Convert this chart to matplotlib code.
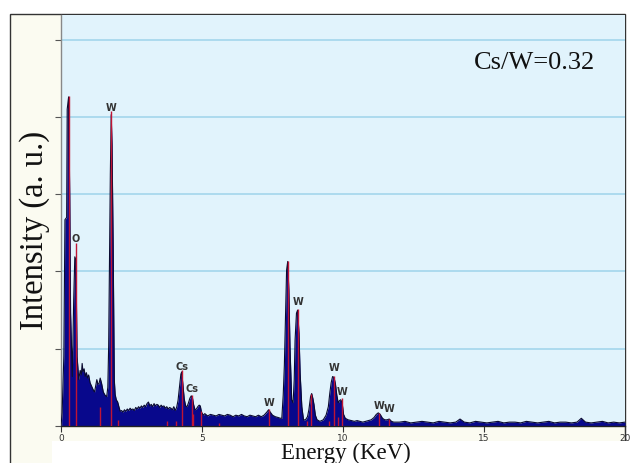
import matplotlib
matplotlib.use("Agg")
import matplotlib.pyplot as plt
from matplotlib.patches import Rectangle

# EDS spectrum (energy in keV, intensity in gridline units)
energy = [
    0.00, 0.04, 0.10, 0.14, 0.20, 0.22, 0.27, 0.31, 0.34, 0.40, 0.45, 0.49, 0.53, 0.57, 0.63,
    0.68, 0.72, 0.75, 0.78, 0.82, 0.86, 0.90, 0.94, 0.98, 1.03, 1.09, 1.14, 1.19, 1.23, 1.27,
    1.31, 1.35, 1.39, 1.44, 1.50, 1.56, 1.62, 1.66, 1.69, 1.72, 1.75, 1.78, 1.81, 1.85, 1.89,
    1.92, 1.96, 2.01, 2.06, 2.10, 2.15, 2.20, 2.25, 2.30, 2.35, 2.40, 2.45, 2.50, 2.55, 2.60,
    2.65, 2.70, 2.75, 2.80, 2.85, 2.90, 2.95, 3.00, 3.05, 3.10, 3.15, 3.20, 3.25, 3.30, 3.35,
    3.40, 3.45, 3.50, 3.55, 3.60, 3.65, 3.70, 3.75, 3.80, 3.85, 3.90, 3.95, 4.00, 4.05, 4.10,
    4.15, 4.20, 4.25, 4.28, 4.32, 4.37, 4.42, 4.47, 4.52, 4.57, 4.62, 4.66, 4.70, 4.75, 4.80,
    4.85, 4.90, 4.94, 4.98, 5.05, 5.10, 5.20, 5.30, 5.40, 5.50, 5.60, 5.70, 5.80, 5.90, 6.00,
    6.10, 6.20, 6.30, 6.40, 6.50, 6.60, 6.70, 6.80, 6.90, 7.00, 7.10, 7.20, 7.30, 7.36, 7.42,
    7.50, 7.60, 7.70, 7.78, 7.83, 7.88, 7.92, 7.97, 8.00, 8.04, 8.08, 8.12, 8.18, 8.23, 8.27,
    8.30, 8.35, 8.39, 8.44, 8.48, 8.54, 8.60, 8.67, 8.74, 8.79, 8.85, 8.89, 8.93, 8.97, 9.02,
    9.08, 9.18, 9.30, 9.40, 9.48, 9.53, 9.58, 9.63, 9.68, 9.73, 9.78, 9.83, 9.88, 9.92, 9.97,
    10.02, 10.08, 10.18, 10.30, 10.40, 10.50, 10.60, 10.70, 10.80, 10.90, 11.00, 11.10, 11.18,
    11.25, 11.32, 11.40, 11.48, 11.56, 11.64, 11.72, 11.80, 12.00, 12.20, 12.40, 12.60, 12.80,
    13.00, 13.20, 13.40, 13.60, 13.80, 14.00, 14.15, 14.30, 14.50, 14.70, 14.90, 15.10, 15.30,
    15.50, 15.70, 15.90, 16.10, 16.30, 16.50, 16.70, 16.90, 17.10, 17.30, 17.50, 17.70, 17.90,
    18.10, 18.30, 18.45, 18.60, 18.80, 19.00, 19.20, 19.40, 19.60, 19.80, 20.00,
]
counts = [
    0.00, 0.17, 0.90, 2.67, 2.70, 4.10, 4.26, 2.97, 1.46, 0.64, 1.63, 2.19, 2.15, 0.90, 0.60,
    0.72, 0.66, 0.81, 0.70, 0.74, 0.64, 0.69, 0.62, 0.66, 0.56, 0.51, 0.47, 0.44, 0.52, 0.60,
    0.54, 0.55, 0.62, 0.55, 0.44, 0.40, 0.38, 0.50, 1.03, 2.11, 3.27, 4.03, 3.64, 2.32, 0.60,
    0.41, 0.34, 0.31, 0.24, 0.19, 0.20, 0.18, 0.21, 0.19, 0.22, 0.20, 0.23, 0.21, 0.22, 0.20,
    0.24, 0.22, 0.25, 0.23, 0.26, 0.24, 0.27, 0.25, 0.29, 0.31, 0.26, 0.28, 0.25, 0.29, 0.26,
    0.28, 0.27, 0.24, 0.27, 0.25, 0.26, 0.23, 0.25, 0.22, 0.24, 0.23, 0.21, 0.25, 0.20, 0.24,
    0.33, 0.50, 0.67, 0.70, 0.55, 0.35, 0.26, 0.25, 0.30, 0.36, 0.39, 0.37, 0.28, 0.21, 0.22,
    0.25, 0.27, 0.26, 0.18, 0.14, 0.16, 0.13, 0.15, 0.14, 0.13, 0.15, 0.14, 0.13, 0.15, 0.14,
    0.12, 0.14, 0.13, 0.15, 0.13, 0.12, 0.14, 0.13, 0.12, 0.14, 0.12, 0.14, 0.18, 0.21, 0.18,
    0.14, 0.12, 0.11, 0.10, 0.10, 0.40, 0.78, 1.55, 2.02, 2.13, 1.76, 1.03, 0.34, 0.30, 0.60,
    1.11, 1.46, 1.50, 1.20, 0.68, 0.25, 0.08, 0.08, 0.12, 0.21, 0.38, 0.42, 0.36, 0.28, 0.14,
    0.08, 0.06, 0.08, 0.14, 0.25, 0.42, 0.56, 0.64, 0.63, 0.55, 0.40, 0.30, 0.33, 0.34, 0.30,
    0.15, 0.10, 0.08, 0.07, 0.06, 0.07, 0.06, 0.05, 0.06, 0.07, 0.08, 0.11, 0.15,
    0.17, 0.15, 0.10, 0.08, 0.08, 0.09, 0.06, 0.05, 0.05, 0.06, 0.04, 0.05, 0.06,
    0.05, 0.04, 0.06, 0.05, 0.04, 0.05, 0.09, 0.05, 0.04, 0.06, 0.05, 0.04, 0.05,
    0.06, 0.04, 0.05, 0.05, 0.04, 0.06, 0.05, 0.04, 0.05, 0.06, 0.04, 0.05, 0.05,
    0.04, 0.05, 0.10, 0.05, 0.04, 0.05, 0.06, 0.04, 0.05, 0.04, 0.05,
]

# red element marker lines
marker_energy = [0.27, 0.52, 1.39, 1.77, 2.03, 3.77, 4.07, 4.28, 4.63, 4.69, 4.96, 5.59,
                 7.37, 8.04, 8.39, 8.71, 8.88, 9.50, 9.67, 9.83, 9.96, 11.27, 11.63]
marker_height = [4.27, 2.37, 0.25, 4.08, 0.08, 0.06, 0.06, 0.72, 0.40, 0.15, 0.20, 0.04,
                 0.22, 2.13, 1.52, 0.06, 0.42, 0.06, 0.65, 0.12, 0.36, 0.17, 0.09]

# peak labels
label_text = ["O", "W", "Cs", "Cs", "W", "W", "W", "W", "W", "W"]
label_x = [0.52, 1.77, 4.28, 4.64, 7.38, 8.40, 9.68, 9.95, 11.28, 11.64]
label_y = [2.42, 4.12, 0.77, 0.48, 0.30, 1.60, 0.75, 0.44, 0.26, 0.22]

xticks = [0, 5, 10, 15, 20]
yticks = [0, 1, 2, 3, 4, 5]

W, H = 630, 463
fig = plt.figure(figsize=(6.3, 4.63), dpi=100)
fig.patch.set_facecolor("white")

# cream outer panel and white strip behind the x label
fig.patches.append(Rectangle((10 / W, -0.05), 615 / W, 1.05 - 14 / H, transform=fig.transFigure,
                             facecolor="#fbfbf1", edgecolor="#333333", lw=1.0, zorder=-2))
fig.patches.append(Rectangle((52 / W, -0.01), 1.0, 1 - 441 / H + 0.01, transform=fig.transFigure,
                             facecolor="white", edgecolor="none", zorder=-1))

ax = fig.add_axes([61 / W, 1 - 426 / H, 564 / W, 411 / H])
ax.set_facecolor("#e1f3fc")
ax.set_xlim(0, 20)
ax.set_ylim(0, 5.32)

for g in yticks[1:]:
    ax.axhline(g, color="#a3d5ec", lw=1.2, zorder=1)

ax.fill_between(energy, counts, 0, color="#08088c", lw=0, zorder=2)
ax.plot(energy, counts, color="#0a0a30", lw=0.8, zorder=3)
ax.vlines(marker_energy, 0, marker_height, color="#c01434", lw=1.0, zorder=4)

for t, x, y in zip(label_text, label_x, label_y):
    ax.text(x, y, t, ha="center", va="center", fontsize=7, fontweight="bold",
            color="#333333", zorder=5)

ax.text(0.839, 0.883, "Cs/W=0.32", transform=ax.transAxes, ha="center", va="center",
        fontsize=19, family="Liberation Serif", color="#111111")

ax.set_xticks(xticks)
ax.set_xticklabels([str(v) for v in xticks])
ax.set_yticks(yticks)
ax.set_yticklabels([])
ax.tick_params(axis="x", direction="out", length=4, width=0.8, color="#333333",
               labelsize=6.5, labelcolor="#333333", pad=1.5)
ax.tick_params(axis="y", direction="out", length=4, width=0.8, color="#555555")

for side in ["top", "right"]:
    ax.spines[side].set_visible(False)
ax.spines["left"].set_color("#888888")
ax.spines["bottom"].set_color("#222222")
ax.spines["left"].set_linewidth(1.0)
ax.spines["bottom"].set_linewidth(1.0)

fig.text(35 / W, 1 - 230 / H, "Intensity (a. u.)", rotation=90, ha="center", va="center",
         fontsize=23.5, family="Liberation Serif", color="#111111")
fig.text(346 / W, 1 - 458.5 / H, "Energy (KeV)", ha="center", va="baseline",
         fontsize=16.5, family="Liberation Serif", color="#111111", zorder=2)

fig.savefig("out.png", dpi=100)
